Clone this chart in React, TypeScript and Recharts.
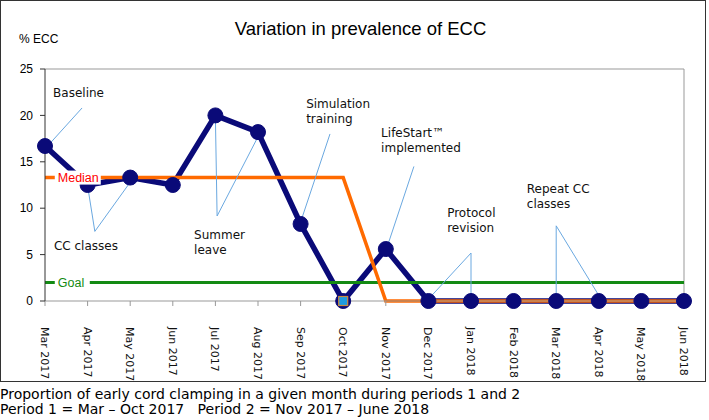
import React from "react";
import { LineChart, Line, XAxis, YAxis, ReferenceLine, ReferenceDot } from "recharts";

const months = [
  "Mar 2017", "Apr 2017", "May 2017", "Jun 2017", "Jul 2017", "Aug 2017", "Sep 2017", "Oct 2017",
  "Nov 2017", "Dec 2017", "Jan 2018", "Feb 2018", "Mar 2018", "Apr 2018", "May 2018", "Jun 2018"
];
const eccPercent = [16.7, 12.5, 13.3, 12.5, 20, 18.2, 8.3, 0, 5.6, 0, 0, 0, 0, 0, 0, 0];
const medianPercent = [13.3, 13.3, 13.3, 13.3, 13.3, 13.3, 13.3, 13.3, 0, 0, 0, 0, 0, 0, 0, 0];
const goalPercent = 2;
const yTicks = [0, 5, 10, 15, 20, 25];
const highlightMonth = "Oct 2017";

// annotation text, x in month-index units, y = baseline of first line in %
const notes = [
  { lines: ["Baseline"], x: 0.19, y: 22.0 },
  { lines: ["CC classes"], x: 0.21, y: 5.5 },
  { lines: ["Summer", "leave"], x: 3.5, y: 6.7 },
  { lines: ["Simulation", "training"], x: 6.13, y: 20.8 },
  { lines: ["LifeStart\u2122", "implemented"], x: 7.89, y: 17.7 },
  { lines: ["Protocol", "revision"], x: 9.44, y: 9.05 },
  { lines: ["Repeat CC", "classes"], x: 11.31, y: 11.6 }
];

// callout segments [x1, y1, x2, y2]
const callouts = [
  [0.87, 20.8, 0.12, 17.0],
  [1.17, 7.5, 1.0, 12.4],
  [1.17, 7.5, 2.0, 12.8],
  [4.04, 9.16, 4.0, 19.8],
  [4.04, 9.16, 5.0, 17.7],
  [6.69, 18.0, 6.0, 8.5],
  [8.66, 14.5, 8.03, 5.8],
  [10.0, 5.17, 9.0, 0.2],
  [10.0, 5.17, 10.0, 0.2],
  [12.0, 8.1, 12.0, 0.5],
  [12.0, 8.1, 13.0, 0.6]
];

const data = months.map((month, i) => ({
  month,
  ecc: eccPercent[i],
  median: medianPercent[i]
}));

const NAVY = "#0a0a78";
const ORANGE = "#ff6a00";
const GREEN = "#138a13";
const CALLOUT = "#6aa8e0";
const VERDANA = "Verdana, 'DejaVu Sans', sans-serif";
const ARIAL = "Arial, 'Liberation Sans', sans-serif";

function MonthTick({ x, y, payload }: any) {
  return (
    <text
      transform={`translate(${x},${y + 19}) rotate(90)`}
      textAnchor="start"
      dy="0.36em"
      fontFamily={VERDANA}
      fontSize={11}
      fill="#111"
    >
      {payload.value}
    </text>
  );
}

function noteShape(lines: string[]) {
  return ({ cx, cy }: any) => (
    <text x={cx} y={cy} fontFamily={VERDANA} fontSize={12} fill="#111">
      {lines.map((line, k) => (
        <tspan key={k} x={cx} dy={k === 0 ? 0 : 15}>
          {line}
        </tspan>
      ))}
    </text>
  );
}

function tagShape(label: string, color: string, width: number) {
  return ({ cx, cy }: any) => (
    <g>
      <rect x={cx - 3} y={cy - 7} width={width} height={14} fill="#fff" />
      <text x={cx} y={cy} dy="0.35em" fontFamily={ARIAL} fontSize={12.5} fill={color}>
        {label}
      </text>
    </g>
  );
}

function SquareMarker({ cx, cy }: any) {
  return <rect x={cx - 4.5} y={cy - 4.5} width={9} height={9} fill="#1e9be0" stroke="#c98a40" strokeWidth={1.2} />;
}

export default function App() {
  return (
    <div style={{ position: "absolute", left: 0, top: 0, width: 709, height: 420, background: "#fff" }}>
      <div
        style={{
          position: "absolute",
          left: 0,
          top: 0,
          width: 706,
          height: 382,
          border: "1px solid #333",
          boxSizing: "border-box"
        }}
      >
        <div
          style={{
            position: "absolute",
            left: 0,
            width: 719,
            top: 19,
            textAlign: "center",
            fontFamily: ARIAL,
            fontSize: 18.5,
            lineHeight: "18.5px",
            color: "#000"
          }}
        >
          Variation in prevalence of ECC
        </div>
        <div
          style={{
            position: "absolute",
            left: 18,
            top: 32,
            fontFamily: ARIAL,
            fontSize: 12,
            lineHeight: "12px",
            color: "#000"
          }}
        >
          % ECC
        </div>
        <LineChart width={704} height={380} data={data} margin={{ top: 68, right: 21, bottom: 10, left: 4 }}>
          <XAxis
            dataKey="month"
            interval={0}
            height={70}
            tick={<MonthTick />}
            tickSize={5}
            stroke="#999"
            axisLine={{ stroke: "#999" }}
            tickLine={{ stroke: "#999" }}
          />
          <XAxis xAxisId="n" type="number" domain={[0, 15]} hide />
          <YAxis
            domain={[0, 25]}
            ticks={yTicks}
            width={40}
            tickSize={5}
            tickMargin={7}
            axisLine={{ stroke: "#333" }}
            tickLine={{ stroke: "#333" }}
            tick={{ fontFamily: ARIAL, fontSize: 12, fill: "#000" }}
          />
          <ReferenceLine y={25} stroke="#999" />
          <ReferenceLine x="Jun 2018" stroke="#999" />
          <Line
            dataKey="ecc"
            stroke={NAVY}
            strokeWidth={5.5}
            dot={{ r: 7.5, fill: NAVY, stroke: NAVY, strokeWidth: 1 }}
            activeDot={false}
            isAnimationActive={false}
          />
          <ReferenceLine y={goalPercent} stroke={GREEN} strokeWidth={3} />
          <Line
            dataKey="median"
            stroke={ORANGE}
            strokeWidth={3.5}
            dot={false}
            activeDot={false}
            isAnimationActive={false}
          />
          {callouts.map((c, k) => (
            <ReferenceLine
              key={k}
              xAxisId="n"
              segment={[{ x: c[0], y: c[1] }, { x: c[2], y: c[3] }]}
              stroke={CALLOUT}
              strokeWidth={1}
              ifOverflow="visible"
            />
          ))}
          {notes.map((n, k) => (
            <ReferenceDot key={k} xAxisId="n" x={n.x} y={n.y} r={0} ifOverflow="visible" shape={noteShape(n.lines)} />
          ))}
          <ReferenceDot xAxisId="n" x={0.3} y={medianPercent[0]} r={0} ifOverflow="visible" shape={tagShape("Median", "#ff0000", 46)} />
          <ReferenceDot xAxisId="n" x={0.3} y={goalPercent} r={0} ifOverflow="visible" shape={tagShape("Goal", GREEN, 35)} />
          <ReferenceDot x={highlightMonth} y={0} r={0} ifOverflow="visible" shape={<SquareMarker />} />
        </LineChart>
      </div>
      <div
        style={{
          position: "absolute",
          left: 0,
          top: 387,
          fontFamily: VERDANA,
          fontSize: 14,
          lineHeight: "15px",
          color: "#000",
          whiteSpace: "pre"
        }}
      >
        {"Proportion of early cord clamping in a given month during periods 1 and 2\nPeriod 1 = Mar \u2013 Oct 2017   Period 2 = Nov 2017 \u2013 June 2018"}
      </div>
    </div>
  );
}
